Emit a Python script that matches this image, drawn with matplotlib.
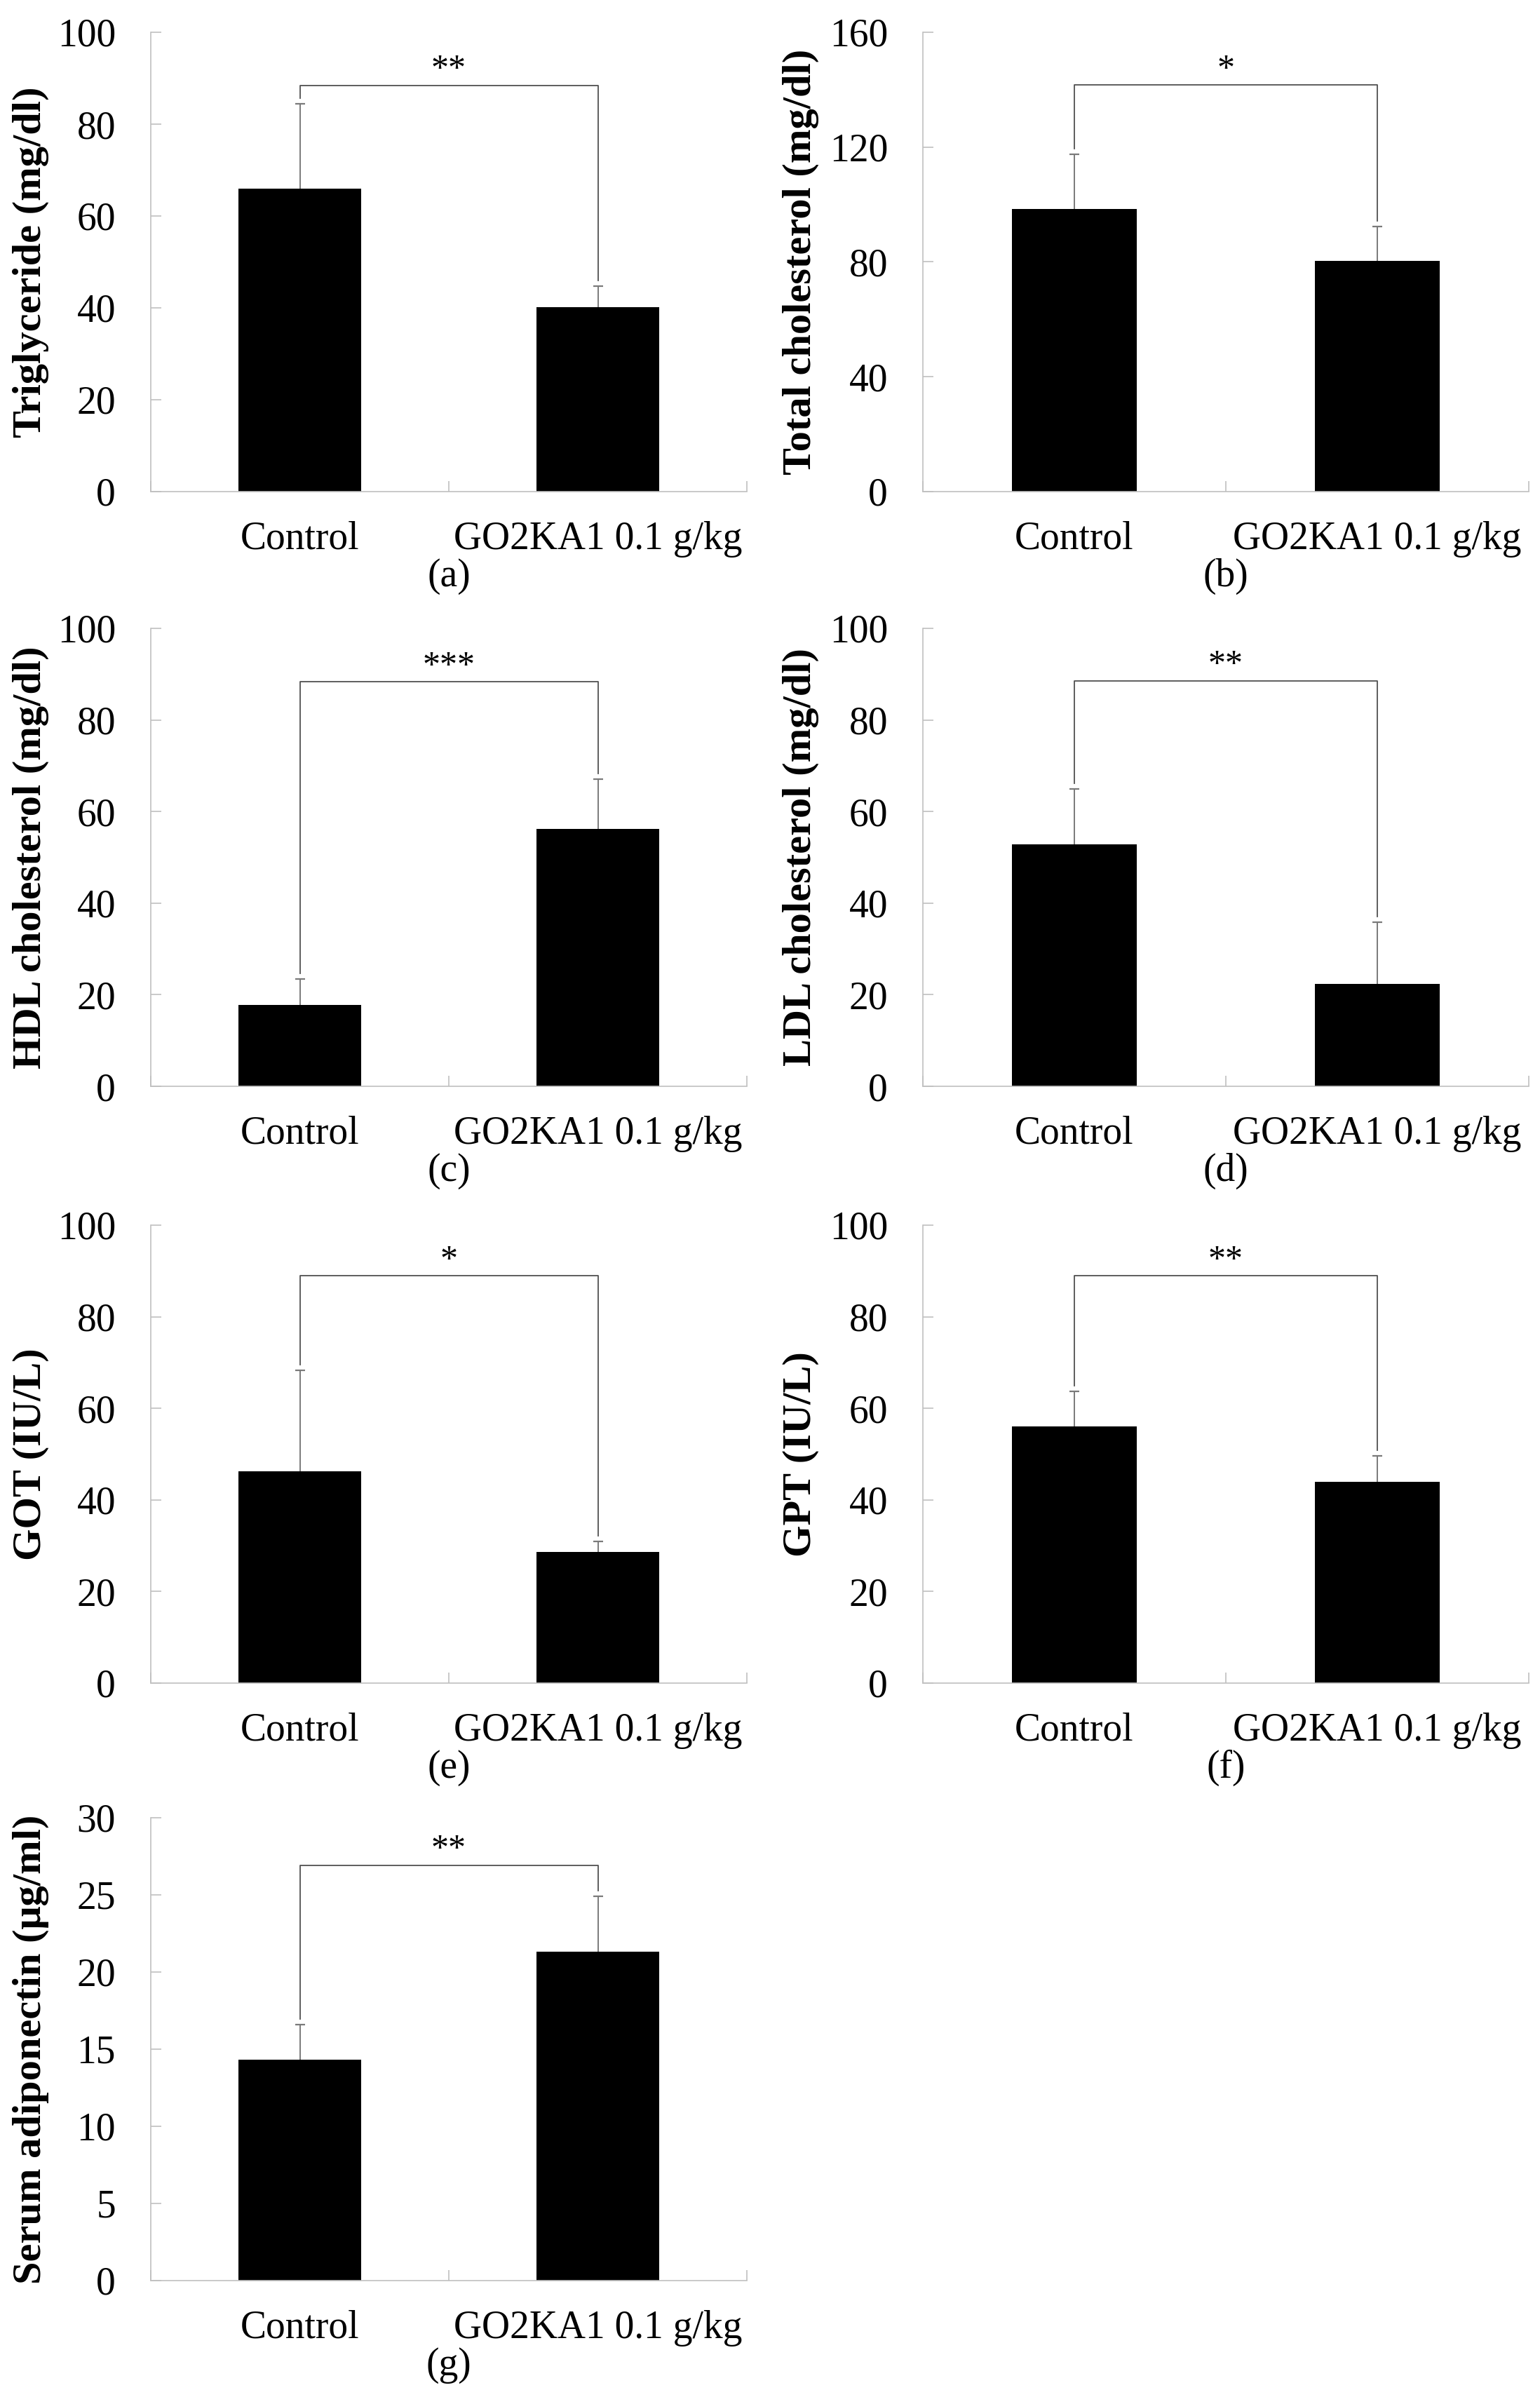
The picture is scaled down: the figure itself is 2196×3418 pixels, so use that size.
import numpy as np
import matplotlib
matplotlib.use("Agg")
from matplotlib import pyplot as plt

plt.rcParams['font.family'] = ['Liberation Serif', 'DejaVu Serif']

categories = ["Control", "GO2KA1 0.1 g/kg"]

# mean values and upper SD
triglyceride = [66.0, 40.2]
triglyceride_sd = [18.5, 4.5]
total_chol = [98.4, 80.3]
total_chol_sd = [19.2, 12.0]
hdl_chol = [17.7, 56.2]
hdl_chol_sd = [5.7, 10.9]
ldl_chol = [52.9, 22.3]
ldl_chol_sd = [12.1, 13.5]
got = [46.2, 28.6]
got_sd = [22.1, 2.4]
gpt = [56.0, 44.0]
gpt_sd = [7.7, 5.6]
adiponectin = [14.3, 21.3]
adiponectin_sd = [2.3, 3.6]

ylabels = ["Triglyceride (mg/dl)", "Total cholesterol (mg/dl)",
           "HDL cholesterol (mg/dl)", "LDL cholesterol (mg/dl)",
           "GOT (IU/L)", "GPT (IU/L)", "Serum adiponectin (\u03bcg/ml)"]
panel_tags = ["(a)", "(b)", "(c)", "(d)", "(e)", "(f)", "(g)"]
stars = ["**", "*", "***", "**", "*", "**", "**"]
bracket_y = [88.4, 141.6, 88.3, 88.5, 88.9, 88.9, 26.9]
ymax = [100, 160, 100, 100, 100, 100, 30]
ystep = [20, 40, 20, 20, 20, 20, 5]

means = [triglyceride, total_chol, hdl_chol, ldl_chol, got, gpt, adiponectin]
sds = [triglyceride_sd, total_chol_sd, hdl_chol_sd, ldl_chol_sd, got_sd, gpt_sd, adiponectin_sd]

W, H = 2196, 3418
cols = [(215, 1065), (1316, 2180)]
rows = [(46, 701), (896, 1549), (1747, 2400), (2592, 3252)]

fig = plt.figure(figsize=(W / 100, H / 100), dpi=100)
axis_gray = '#c0c0c0'

for i in range(7):
    x0, x1 = cols[i % 2]
    ytop, ybot = rows[i // 2]
    ax = fig.add_axes([x0 / W, 1 - ybot / H, (x1 - x0) / W, (ybot - ytop) / H])

    x = np.arange(len(categories))
    m = np.array(means[i])
    s = np.array(sds[i])
    ax.bar(x, m, width=0.41, color='black', zorder=2)
    eb = ax.errorbar(x, m, yerr=[np.zeros_like(s), s], fmt='none', ecolor='#7a7a7a',
                     elinewidth=1.4, capsize=4.8, capthick=1.6, zorder=3)
    eb[1][0].set_visible(False)
    eb[1][1].set_color('#333333')

    # significance bracket
    gap = 0.012 * ymax[i]
    tops = m + s + gap
    yb = bracket_y[i]
    ax.plot([x[0], x[0], x[1], x[1]], [tops[0], yb, yb, tops[1]],
            color='#505050', lw=1.3, zorder=3)
    ax.annotate(stars[i], xy=(0.5, yb), xytext=(0, 7), textcoords='offset points',
                ha='center', va='baseline', fontsize=36)

    ax.set_xlim(-0.5, 1.5)
    ax.set_ylim(0, ymax[i])
    ax.set_yticks(np.arange(0, ymax[i] + 1, ystep[i]))
    ax.set_xticks(x)
    ax.set_xticklabels(categories)
    ax.set_xticks([-0.5, 0.5, 1.5], minor=True)
    ax.tick_params(axis='x', which='major', length=0, pad=30, labelsize=40)
    ax.tick_params(axis='x', which='minor', direction='in', length=11,
                   width=1.2, color=axis_gray)
    ax.tick_params(axis='y', direction='in', length=11, width=1.2,
                   color=axis_gray, pad=36, labelsize=40)

    for side in ['top', 'right']:
        ax.spines[side].set_visible(False)
    for side in ['left', 'bottom']:
        ax.spines[side].set_color(axis_gray)
        ax.spines[side].set_linewidth(1.2)

    ax.set_ylabel(ylabels[i], fontsize=42, fontweight='bold')
    ax.yaxis.set_label_coords((44 - 215) / 850, 0.5)
    ax.yaxis.label.set_verticalalignment('center')

    ax.annotate(panel_tags[i], xy=(0.5, 0), xycoords='axes fraction',
                xytext=(0, -87), textcoords='offset points',
                ha='center', va='center', fontsize=40)

fig.savefig('out.png', dpi=100)
